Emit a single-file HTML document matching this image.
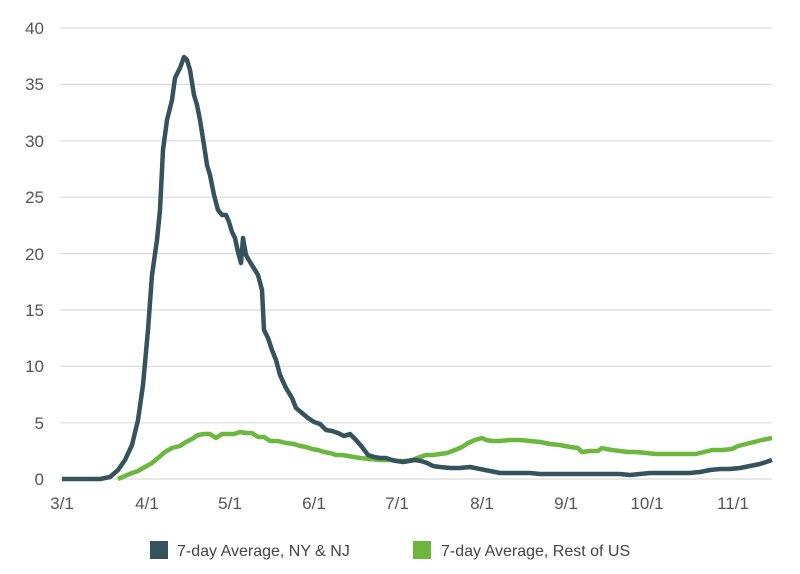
<!DOCTYPE html>
<html><head><meta charset="utf-8"><style>
html,body{margin:0;padding:0;background:#fff;}
svg{display:block;font-family:"Liberation Sans",sans-serif;}
</style></head><body>
<svg width="800" height="574" viewBox="0 0 800 574">
<g stroke="#dcdcdc" stroke-width="1.2">
<line x1="60" y1="28" x2="772" y2="28"/><line x1="60" y1="84.4" x2="772" y2="84.4"/>
<line x1="60" y1="140.8" x2="772" y2="140.8"/><line x1="60" y1="197.2" x2="772" y2="197.2"/>
<line x1="60" y1="253.6" x2="772" y2="253.6"/><line x1="60" y1="310" x2="772" y2="310"/>
<line x1="60" y1="366.4" x2="772" y2="366.4"/><line x1="60" y1="422.8" x2="772" y2="422.8"/>
<line x1="60" y1="479" x2="772" y2="479"/>
</g>
<g fill="#555" font-size="17" text-anchor="end">
<text x="44" y="34">40</text><text x="44" y="90">35</text><text x="44" y="147">30</text>
<text x="44" y="203">25</text><text x="44" y="260">20</text><text x="44" y="316">15</text>
<text x="44" y="372">10</text><text x="44" y="429">5</text><text x="44" y="485">0</text>
</g>
<g fill="#555" font-size="17" text-anchor="middle">
<text x="62" y="509">3/1</text><text x="147" y="509">4/1</text><text x="230" y="509">5/1</text>
<text x="314" y="509">6/1</text><text x="397" y="509">7/1</text><text x="482" y="509">8/1</text>
<text x="566" y="509">9/1</text><text x="647" y="509">10/1</text><text x="733" y="509">11/1</text>
</g>
<polyline fill="none" stroke="#6cb83f" stroke-width="4.5" stroke-linejoin="round" points="118,479 125,476 132,473 138,471 145,467 152,463 158,458 165,452 172,448 180,446 186,442 192,439 198,435 204,434 210,434 216,438 222,434 228,434 234,434 240,432 246,433 252,433 258,437 264,437 270,441 278,441 286,443 294,444 300,446 306,447 312,449 318,450 324,452 330,453 336,455 342,455 348,456 354,457 360,458 370,459 380,460 390,460 397,461 405,461 412,460 420,457 426,455 433,455 440,454 447,453 455,450 462,447 468,443 475,440 482,438 486,440 492,441 500,441 510,440 520,440 530,441 540,442 550,444 560,445 570,447 578,448 582,452 590,451 598,451 602,448 606,449 612,450 620,451 628,452 636,452 646,453 656,454 666,454 676,454 686,454 696,454 704,452 712,450 722,450 732,449 738,446 746,444 754,442 762,440 772,438"/>
<polyline fill="none" stroke="#35525d" stroke-width="4.5" stroke-linejoin="round" points="62,479 100,479 110,477 118,470 125,460 132,445 138,420 143,385 148,330 152,275 157,240 160,210 163,150 167,120 172,100 175,78 180,68 184,57 187,60 190,70 194,95 197,105 200,120 204,145 207,165 210,175 214,195 218,210 222,215 226,215 229,222 232,232 235,238 238,252 241,263 243,238 246,255 250,262 255,270 258,275 262,290 264,330 268,338 272,350 276,360 280,375 286,388 292,398 296,408 302,413 308,418 314,422 320,424 326,430 332,431 338,433 344,436 350,434 356,440 362,447 368,455 374,457 380,458 386,458 392,460 397,461 403,462 409,461 415,460 421,461 427,463 433,466 440,467 450,468 460,468 470,467 480,469 490,471 500,473 510,473 520,473 530,473 540,474 550,474 560,474 570,474 580,474 590,474 600,474 610,474 620,474 630,475 640,474 650,473 660,473 670,473 680,473 690,473 700,472 710,470 720,469 730,469 740,468 750,466 760,464 772,460"/>
<rect x="150" y="541" width="18" height="18" fill="#35525d"/>
<text x="177" y="556" font-size="16" fill="#444">7-day Average, NY &amp; NJ</text>
<rect x="413" y="541" width="18" height="18" fill="#6cb83f"/>
<text x="441" y="556" font-size="16" fill="#444">7-day Average, Rest of US</text>
</svg>
</body></html>
